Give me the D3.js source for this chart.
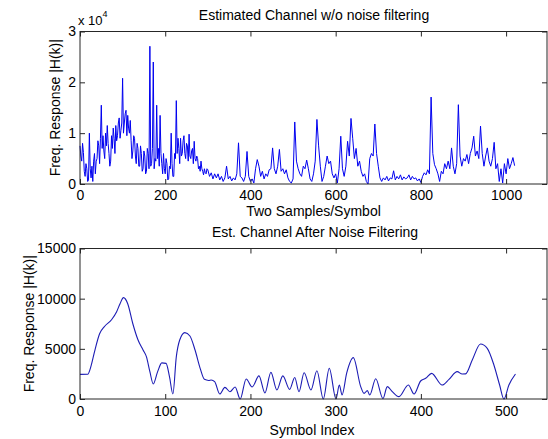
<!DOCTYPE html>
<html>
<head>
<meta charset="utf-8">
<script src="https://cdn.jsdelivr.net/npm/d3@7"></script>
<style>
  html, body { margin: 0; padding: 0; background: #fff; }
  svg { display: block; }
  text { font-family: "Liberation Sans", Arial, Helvetica, sans-serif; fill: #000; }
</style>
</head>
<body>
<svg id="chart" width="548" height="439"></svg>
<script>
// ---------------- DATA ----------------
// Top panel: |H(k)| in units of 1e4.
// Part A: indices 0..298, every 2nd index
const topAStart = 0, topAStep = 2;
const topAVal = [
  0.75, 0.55, 0.45, 0.8, 0.62, 0.25, 0.15, 0.4, 0.3, 0.05,
  0.08, 1.0, 0.3, 0.12, 0.35, 0.05, 0.45, 0.6, 0.2, 0.45,
  0.5, 0.85, 0.75, 0.4, 0.9, 1.55, 0.7, 0.95, 0.65, 0.5,
  1.0, 0.75, 1.15, 0.8, 0.6, 0.35, 0.45, 0.95, 0.7, 1.1,
  0.9, 0.6, 1.15, 0.85, 0.95, 1.2, 1.3, 0.9, 1.05, 1.2,
  2.08, 1.0, 1.2, 1.38, 1.45, 0.95, 1.35, 1.1, 1.0, 1.25,
  0.85, 0.5, 0.65, 0.95, 0.9, 0.55, 0.4, 0.8, 0.7, 0.35,
  0.35, 0.75, 0.6, 0.25, 0.3, 0.65, 0.55, 0.2, 0.25, 0.7,
  0.6, 0.3, 2.71, 0.35, 0.4, 0.7, 2.4, 0.3, 0.5, 0.45,
  1.55, 0.5, 0.7, 0.35, 1.35, 0.6, 0.4, 0.2, 0.6, 0.3,
  0.2, 0.5, 0.4, 0.08, 0.1, 0.35, 0.3, 1.0, 0.4, 0.15,
  0.15, 0.6, 0.5, 1.64, 0.6, 0.9, 0.7, 0.4, 0.9, 0.55,
  0.6, 0.85, 0.95, 0.6, 0.5, 0.8, 0.75, 0.45, 0.98, 0.55,
  0.5, 0.65, 0.7, 0.4, 0.84, 0.5, 0.45, 0.55, 0.5, 0.3,
  0.35, 0.25, 0.45, 0.3, 0.25, 0.18, 0.3, 0.22, 0.2, 0.3
];
// Part B: indices 300..1020, every 4th index
const topBStart = 300, topBStep = 4;
const topBVal = [
  0.28, 0.15, 0.22, 0.1, 0.2,
  0.12, 0.2, 0.08, 0.15, 0.05, 0.12, 0.35, 0.1, 0.15, 0.06,
  0.12, 0.08, 0.2, 0.81, 0.15, 0.12, 0.05, 0.15, 0.64, 0.15,
  0.05, 0.1, 0.02, 0.3, 0.48, 0.35, 0.15, 0.25, 0.1, 0.2,
  0.15, 0.28, 0.3, 0.71, 0.3, 0.2, 0.35, 0.68, 0.25, 0.3,
  0.2, 0.28, 0.12, 0.05, 0.02, 0.1, 1.22, 0.45, 0.3, 0.2,
  0.15, 0.35, 0.3, 0.47, 0.3, 0.1, 0.05, 0.2, 0.45, 1.27,
  0.75, 0.35, 0.05, 0.15, 0.35, 0.55, 0.4, 0.45, 0.2, 0.12,
  0.2, 0.02, 0.3, 0.94, 0.3, 0.15, 0.35, 0.84, 0.55, 1.29,
  0.9, 0.5, 0.7, 0.35, 0.45, 0.25, 0.15, 0.2, 0.05, 0.0,
  0.5, 0.6, 0.55, 1.18, 0.6, 0.35, 0.12, 0.05, 0.12, 0.08,
  0.15, 0.06, 0.12, 0.1, 0.26, 0.08, 0.15, 0.1, 0.18, 0.08,
  0.14, 0.1, 0.12, 0.18, 0.08, 0.15, 0.1, 0.12, 0.06, 0.1,
  0.03, 0.15, 0.22, 0.18, 0.28, 0.2, 1.71, 0.6, 0.38, 0.3,
  0.2, 0.05, 0.25, 0.2, 0.4, 0.3, 0.45, 0.3, 0.71, 0.35,
  0.2, 0.4, 1.56, 0.55, 0.35, 0.5, 0.45, 0.58, 0.4, 0.6,
  0.71, 0.94, 0.55, 0.65, 0.5, 1.14, 0.6, 0.35, 0.55, 0.71,
  0.45, 0.35, 0.5, 0.82, 0.3, 0.4, 0.05, 0.3, 0.02, 0.4,
  0.2, 0.5, 0.3, 0.4, 0.52, 0.36
];
const topXTicks = [0, 200, 400, 600, 800, 1000];
const topYTicks = [0, 1, 2, 3];

// Bottom panel: filtered |H(k)| at key symbol indices
const botIdx = [0, 9, 13, 17, 23, 29, 37, 43, 47, 51, 56, 62, 68, 74, 78, 82, 86, 91, 96, 101,
  105, 109, 113, 117, 123, 129, 135, 141, 146, 151, 154, 158, 164, 170, 176, 182, 188, 195, 202, 210,
  217, 224, 231, 238, 246, 252, 257, 263, 271, 278, 285.5, 292.5, 300.4, 304.3, 307.5, 313, 320.7, 329.4, 333.3, 337.2,
  340, 347, 355.5, 360.6, 366.5, 374.3, 385.3, 392, 399.7, 405.6, 412.6, 425, 433, 442.6, 448.5, 452.4, 460.3, 470, 477.9, 485.7,
  492.4, 497.4, 503.3, 511];
const botVal = [2450, 2460, 3300, 4700, 6500, 7250, 7900, 8700, 9500, 10100, 9500, 7500, 5900, 4880, 4200, 2720, 1500, 2700, 3600, 3550,
  2230, 500, 4200, 5880, 6620, 6280, 4880, 3060, 1960, 1850, 1900, 1730, 500, 1160, 730, 1200, 0, 2000, 1200, 2300,
  600, 2650, 900, 2300, 960, 2150, 730, 2620, 900, 2820, 0, 3060, 0, 1400, 400, 2600, 4120, 1230, 565, 830,
  400, 2020, 50, 1230, 730, 232, 1395, 498, 1794, 2060, 2558, 1395, 1960, 2724, 2491, 2500, 3887, 5482, 5050, 3389,
  1395, 0, 1395, 2491];
const botXTicks = [0, 100, 200, 300, 400, 500];
const botYTicks = [0, 5000, 10000, 15000];

// ---------------- LAYOUT ----------------
const svg = d3.select("#chart");
const L = 80, R = 547;
const topPanel = { top: 31.5, bottom: 184 };
const botPanel = { top: 248.5, bottom: 399 };
const axisColor = "#262626";
const fontSize = 14;
const fmt = d => String(d);

const xTop = d3.scaleLinear().domain([0, 1096]).range([L, R]);
const yTop = d3.scaleLinear().domain([0, 3]).range([topPanel.bottom, topPanel.top]);
const xBot = d3.scaleLinear().domain([0, 548]).range([L, R]);
const yBot = d3.scaleLinear().domain([0, 15000]).range([botPanel.bottom, botPanel.top]);

function drawFrame(x, y, p, xTicks, yTicks, pad) {
  const g = svg.append("g");
  const bottom = g.append("g").attr("transform", `translate(0,${p.bottom})`)
    .call(d3.axisBottom(x).tickValues(xTicks).tickSizeInner(-5).tickSizeOuter(0).tickPadding(pad).tickFormat(fmt));
  const topA = g.append("g").attr("transform", `translate(0,${p.top})`)
    .call(d3.axisTop(x).tickValues(xTicks).tickSizeInner(-5).tickSizeOuter(0).tickFormat(""));
  const left = g.append("g").attr("transform", `translate(${L},0)`)
    .call(d3.axisLeft(y).tickValues(yTicks).tickSizeInner(-5).tickSizeOuter(0).tickPadding(4).tickFormat(fmt));
  const right = g.append("g").attr("transform", `translate(${R},0)`)
    .call(d3.axisRight(y).tickValues(yTicks).tickSizeInner(-5).tickSizeOuter(0).tickFormat(""));
  [bottom, topA, left, right].forEach(a => {
    a.select(".domain").remove();
    a.selectAll("line").attr("stroke", axisColor);
    a.selectAll("text").attr("font-size", fontSize).attr("font-family", '"Liberation Sans", Arial, sans-serif').attr("fill", "#000");
  });
  g.append("rect").attr("x", L).attr("y", p.top).attr("width", R - L).attr("height", p.bottom - p.top)
    .attr("fill", "none").attr("stroke", axisColor).attr("stroke-width", 1);
}

// ---------------- TOP PANEL ----------------
const topData = topAVal.map((v, i) => ({ x: topAStart + i * topAStep, y: v }))
  .concat(topBVal.map((v, i) => ({ x: topBStart + i * topBStep, y: v })));
svg.append("path").datum(topData)
  .attr("fill", "none").attr("stroke", "#0000f0").attr("stroke-width", 1)
  .attr("d", d3.line().x(d => xTop(d.x)).y(d => yTop(d.y)));
drawFrame(xTop, yTop, topPanel, topXTicks, topYTicks, 6);

svg.append("text").attr("x", 314).attr("y", 19.5).attr("text-anchor", "middle")
  .attr("font-size", fontSize).text("Estimated Channel w/o noise filtering");
const mult = svg.append("text").attr("x", 78).attr("y", 25).attr("font-size", 13);
mult.append("tspan").text("x 10");
mult.append("tspan").attr("font-size", 9).attr("dy", -8).text("4");
svg.append("text").attr("x", 313.5).attr("y", 216).attr("text-anchor", "middle")
  .attr("font-size", fontSize).text("Two Samples/Symbol");
svg.append("text").attr("transform", `translate(60,${(topPanel.top + topPanel.bottom) / 2}) rotate(-90)`)
  .attr("text-anchor", "middle").attr("font-size", fontSize).text("Freq. Response |H(k)|");

// ---------------- BOTTOM PANEL ----------------
const botData = botIdx.map((k, i) => ({ x: k, y: botVal[i] }));
svg.append("path").datum(botData)
  .attr("fill", "none").attr("stroke", "#1c1cb4").attr("stroke-width", 1.1)
  .attr("d", d3.line().curve(d3.curveMonotoneX).x(d => xBot(d.x)).y(d => yBot(d.y)));
drawFrame(xBot, yBot, botPanel, botXTicks, botYTicks, 7.5);

svg.append("text").attr("x", 315).attr("y", 236.5).attr("text-anchor", "middle")
  .attr("font-size", fontSize).text("Est. Channel After Noise Filtering");
svg.append("text").attr("x", 312).attr("y", 435).attr("text-anchor", "middle")
  .attr("font-size", fontSize).text("Symbol Index");
svg.append("text").attr("transform", `translate(34,${(botPanel.top + botPanel.bottom) / 2}) rotate(-90)`)
  .attr("text-anchor", "middle").attr("font-size", fontSize).text("Freq. Response |H(k)|");
</script>
</body>
</html>
